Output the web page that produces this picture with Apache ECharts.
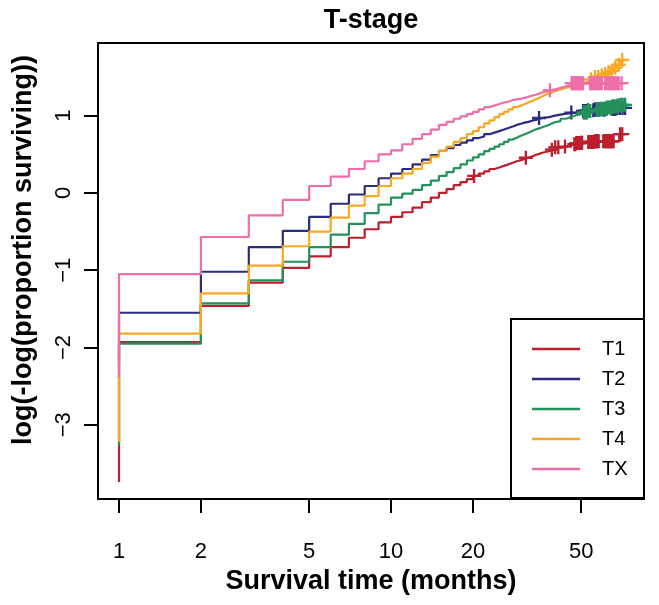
<!DOCTYPE html>
<html>
<head>
<meta charset="utf-8">
<script src="https://cdn.jsdelivr.net/npm/echarts@6/dist/echarts.min.js"></script>
<style>
  html, body { margin: 0; padding: 0; background: #fff; }
  #chart { width: 659px; height: 605px; }
</style>
</head>
<body>
<div id="chart"></div>
<script>
// ---- Data (time in months, value = log(-log(S))) ----
const seriesNames = ['T1', 'T2', 'T3', 'T4', 'TX'];
const seriesColors = ['#BE1E2D', '#2B2C7C', '#23915A', '#F7A823', '#EE6EAA'];

const curveT1 = [[1,-3.74],[1,-1.93],[2,-1.46],[3,-1.16],[4,-0.97],[5,-0.82],[6,-0.70],[7,-0.58],[8,-0.47],[9,-0.38],[10,-0.31],[11,-0.25],[12,-0.19],[13,-0.12],[14,-0.06],[15,0.00],[16,0.05],[17,0.10],[18,0.14],[19,0.18],[20,0.22],[21,0.25],[22,0.28],[23,0.31],[24,0.33],[25,0.35],[26,0.37],[27,0.39],[28,0.41],[29,0.425],[30,0.44],[31,0.455],[32,0.47],[33,0.49],[34,0.505],[35,0.52],[36,0.54],[38,0.56],[40,0.59],[42,0.60],[44,0.62],[46,0.63],[48,0.645],[50,0.65],[53,0.66],[56,0.67],[69,0.76],[71,0.76]];
const curveT2 = [[1,-2.2],[1,-1.55],[2,-1.02],[3,-0.70],[4,-0.49],[5,-0.31],[6,-0.14],[7,-0.02],[8,0.09],[9,0.19],[10,0.25],[11,0.31],[12,0.37],[13,0.43],[14,0.49],[15,0.545],[16,0.58],[17,0.62],[18,0.65],[19,0.68],[20,0.71],[21,0.73],[22,0.76],[23,0.78],[24,0.80],[25,0.82],[26,0.84],[27,0.86],[28,0.88],[29,0.895],[30,0.91],[31,0.92],[32,0.935],[33,0.945],[34,0.96],[35,0.97],[36,0.98],[38,1.00],[40,1.02],[43,1.03],[45,1.04],[48,1.05],[50,1.06],[53,1.07],[56,1.08],[62,1.09],[68,1.10],[72.5,1.10]];
const curveT3 = [[1,-3.26],[1,-1.95],[2,-1.43],[3,-1.13],[4,-0.89],[5,-0.70],[6,-0.54],[7,-0.40],[8,-0.26],[9,-0.15],[10,-0.06],[11,-0.01],[12,0.04],[13,0.10],[14,0.16],[15,0.22],[16,0.27],[17,0.32],[18,0.37],[19,0.42],[20,0.46],[21,0.50],[22,0.54],[23,0.57],[24,0.60],[25,0.63],[26,0.66],[27,0.69],[28,0.715],[29,0.74],[30,0.76],[31,0.78],[32,0.80],[33,0.82],[34,0.835],[35,0.85],[36,0.865],[37,0.88],[38,0.90],[39,0.915],[40,0.93],[42,0.96],[44,0.985],[46,1.005],[48,1.02],[50,1.04],[53,1.06],[56,1.075],[59,1.09],[62,1.105],[65,1.12],[68,1.13],[70,1.14],[72.5,1.14]];
const curveT4 = [[1,-3.22],[1,-1.82],[2,-1.30],[3,-0.94],[4,-0.69],[5,-0.50],[6,-0.32],[7,-0.165],[8,-0.04],[9,0.09],[10,0.19],[11,0.25],[12,0.31],[13,0.39],[14,0.47],[15,0.545],[16,0.60],[17,0.66],[18,0.71],[19,0.76],[20,0.80],[21,0.85],[22,0.90],[23,0.94],[24,0.98],[25,1.02],[26,1.05],[27,1.08],[28,1.11],[29,1.13],[30,1.15],[31,1.17],[32,1.19],[33,1.21],[34,1.23],[35,1.25],[36,1.27],[37,1.29],[38,1.30],[39,1.315],[40,1.33],[41,1.34],[42,1.35],[43,1.36],[44,1.37],[45,1.38],[46,1.39],[47,1.40],[48,1.41],[49,1.42],[50,1.43],[52,1.45],[54,1.47],[56,1.50],[58,1.52],[60,1.54],[62,1.56],[64,1.58],[66,1.62],[68,1.66],[70,1.72],[71,1.72]];
const curveTX = [[1,-2.38],[1,-1.05],[2,-0.57],[3,-0.29],[4,-0.09],[5,0.09],[6,0.21],[7,0.31],[8,0.41],[9,0.50],[10,0.55],[11,0.63],[12,0.70],[13,0.76],[14,0.82],[15,0.88],[16,0.92],[17,0.96],[18,0.99],[19,1.02],[20,1.05],[21,1.08],[22,1.11],[23,1.13],[24,1.15],[25,1.17],[26,1.18],[27,1.20],[28,1.21],[29,1.22],[30,1.23],[31,1.245],[32,1.26],[33,1.27],[34,1.285],[35,1.30],[36,1.31],[37,1.32],[38,1.33],[39,1.34],[40,1.35],[41,1.36],[42,1.37],[43,1.38],[44,1.385],[45,1.39],[46,1.42],[71,1.42]];

// censoring times (months)
const censorT1 = [20.2,31.3,39,40.1,41.2,43.6,47.2,47.6,48,48.4,48.8,49.2,49.6,50,50.4,53.1,53.6,54.1,54.6,55.1,55.6,56.1,56.6,57.1,57.6,58,60.3,60.8,61.3,61.8,62.3,62.8,63.3,63.8,64.3,64.8,65.3,65.8,69.5,70.8];
const censorT2 = [35,46,50.8,51.3,51.8,52.3,53,55.4,56,56.5,57,57.5,58,58.5,60,60.5,61,62,64.7,65.3,66,66.5,67,68,69.5,71,72.5];
const censorT3 = [51,51.5,52,52.5,53,54,57,58,59,60,61,62,63,64,64.5,65,65.5,66,67,67.5,68,69,70,71,72.5];
const censorT4 = [54.4,56.2,57.8,59.5,61.2,63,64.8,66.7,68.7,70.8];
const censorTX = [38.4,46.1,46.5,46.9,47.3,47.7,48.1,48.6,49.1,49.5,50,50.8,53.9,54.6,55.4,56.2,57,57.8,58.6,59.5,61.2,62,63,63.9,64.8,65.7,66.7,67.7,68.7,70.4];

const xTicks = [1, 2, 5, 10, 20, 50];
const yTicks = [-3, -2, -1, 0, 1];

// ---- Build ----
const curves = [curveT1, curveT2, curveT3, curveT4, curveTX];
const censors = [censorT1, censorT2, censorT3, censorT4, censorTX];

function levelAt(curve, t) {
  let v = curve[0][1];
  for (const p of curve) { if (p[0] <= t) v = p[1]; else break; }
  return v;
}

const FONT = 'Liberation Sans, Arial, Helvetica, sans-serif';
const PLUS = 'path://M5,0H7V5H12V7H7V12H5V7H0V5H5Z';

const series = [];
curves.forEach((c, i) => {
  series.push({
    name: seriesNames[i], type: 'line', step: 'end', data: c,
    showSymbol: false, symbol: 'none', silent: true,
    lineStyle: { color: seriesColors[i], width: 2.2 },
    itemStyle: { color: seriesColors[i] },
    z: 2 + i
  });
});
censors.forEach((cs, i) => {
  series.push({
    name: seriesNames[i] + ' censored', type: 'scatter', silent: true,
    symbol: PLUS, symbolSize: 14,
    itemStyle: { color: seriesColors[i], opacity: 1 },
    data: cs.map(t => [t, levelAt(curves[i], t)]),
    z: 2 + i
  });
});

const chart = echarts.init(document.getElementById('chart'), null, { renderer: 'canvas' });
chart.setOption({
  animation: false,
  backgroundColor: '#fff',
  textStyle: { fontFamily: FONT },
  title: {
    text: 'T-stage', left: 371, top: 7, textAlign: 'center', padding: 0,
    textStyle: { fontSize: 27, fontWeight: 'bold', color: '#000', fontFamily: FONT }
  },
  grid: {
    left: 98, right: 15, top: 43, bottom: 106,
    show: true, borderColor: '#000', borderWidth: 2, backgroundColor: 'transparent'
  },
  legend: {
    data: seriesNames, orient: 'vertical', left: 532, top: 339, padding: 0,
    icon: 'rect', itemWidth: 48, itemHeight: 2.5, itemGap: 10,
    selectedMode: false,
    textStyle: { fontSize: 20, lineHeight: 20, color: '#000', fontFamily: FONT, padding: [0, 0, 0, 17] }
  },
  graphic: [{
    type: 'rect', shape: { x: 511, y: 319, width: 133, height: 179 },
    style: { fill: 'none', stroke: '#000', lineWidth: 2 }, z: 10, silent: true
  }],
  xAxis: {
    type: 'log', logBase: 10, min: 0.837, max: 85.1,
    axisLine: { show: false, onZero: false },
    axisTick: { show: true, length: 14, customValues: xTicks, lineStyle: { color: '#000', width: 2 } },
    axisLabel: { customValues: xTicks, formatter: v => String(v), fontSize: 22, color: '#000', margin: 42, fontFamily: FONT },
    splitLine: { show: false }, minorTick: { show: false },
    name: 'Survival time (months)', nameLocation: 'middle', nameGap: 63,
    nameTextStyle: { fontSize: 27, fontWeight: 'bold', color: '#000', fontFamily: FONT }
  },
  yAxis: {
    type: 'value', min: -3.96, max: 1.94,
    axisLine: { show: false, onZero: false },
    axisTick: { show: true, length: 14, customValues: yTicks, lineStyle: { color: '#000', width: 2 } },
    axisLabel: { customValues: yTicks, rotate: 90, formatter: v => String(v).replace('-', '\u2212'), fontSize: 22, color: '#000', margin: 23, fontFamily: FONT },
    splitLine: { show: false },
    name: 'log(-log(proportion surviving))', nameLocation: 'middle', nameGap: 61,
    nameTextStyle: { fontSize: 27, fontWeight: 'bold', color: '#000', fontFamily: FONT, padding: [0, 0, 0, 42] }
  },
  series: series
});
</script>
</body>
</html>
